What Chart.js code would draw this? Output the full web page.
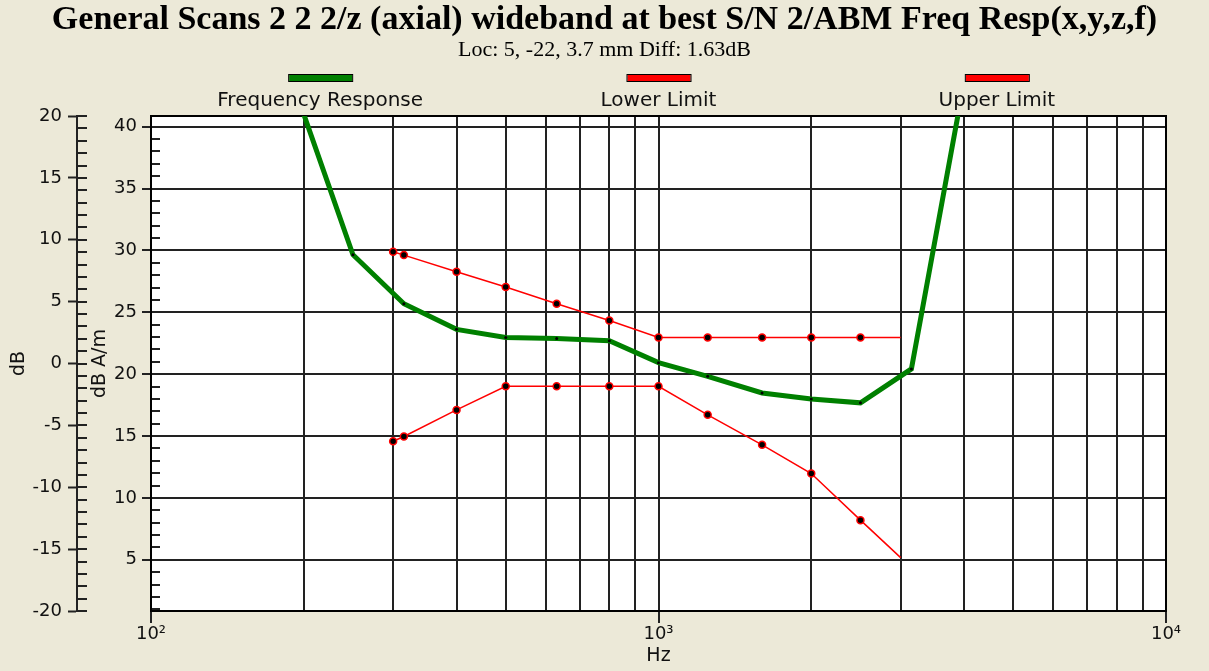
<!DOCTYPE html>
<html>
<head>
<meta charset="utf-8">
<script src="https://cdn.jsdelivr.net/npm/chart.js@4.4.1/dist/chart.umd.min.js"></script>
<style>
html,body{margin:0;padding:0;background:#ECE9D8;}
canvas{display:block;}
</style>
</head>
<body>
<canvas id="c" width="1209" height="671"></canvas>
<script>
// ---------- data ----------
const titleText = 'General Scans 2 2 2/z (axial) wideband at best S/N 2/ABM Freq Resp(x,y,z,f)';
const subtitleText = 'Loc: 5, -22, 3.7 mm Diff: 1.63dB';
const seriesNames = ['Frequency Response', 'Lower Limit', 'Upper Limit'];

const responseFreqs  = [200, 250, 315, 400, 500, 630, 800, 1000, 1250, 1600, 2000, 2500, 3150, 4000];
const responseValues = [41.0, 29.65, 25.69, 23.62, 22.97, 22.89, 22.70, 20.93, 19.82, 18.48, 18.00, 17.68, 20.42, 43.6];

const limitFreqs       = [300, 315, 400, 500, 630, 800, 1000, 1250, 1600, 2000, 2500, 3000];
const lowerLimitValues = [14.58, 14.96, 17.11, 19.02, 19.02, 19.02, 19.02, 16.71, 14.29, 11.97, 8.20, 5.17];
const upperLimitValues = [29.89, 29.62, 28.27, 27.04, 25.69, 24.34, 22.97, 22.97, 22.97, 22.97, 22.97, 22.97];

const xTickValues = [100, 200, 300, 400, 500, 600, 700, 800, 900,
                     1000, 2000, 3000, 4000, 5000, 6000, 7000, 8000, 9000, 10000];
const xTickLabels = {100: '10\u00B2', 1000: '10\u00B3', 10000: '10\u2074'};

const yInnerMajor = [5, 10, 15, 20, 25, 30, 35, 40];          // dB A/m
const yOuterMajor = [-20, -15, -10, -5, 0, 5, 10, 15, 20];    // dB
const yInnerRange = [0.86, 40.86];
const yOuterRange = [-20, 20];

// ---------- helpers ----------
function stepTicks(lo, hi) { const t = []; for (let v = lo; v <= hi; v++) t.push({value: v}); return t; }
const toXY = (xs, ys) => xs.map((x, i) => ({x: x, y: ys[i]}));

const GRID = '#222222';
const BG = '#ECE9D8';
const tickFont = {family: 'DejaVu Sans', size: 18};
const titleFont = {family: 'DejaVu Sans', size: 19};

const bgPlugin = {
  id: 'bg',
  beforeDraw(chart) {
    const {ctx, chartArea: a} = chart;
    ctx.save();
    ctx.fillStyle = BG;
    ctx.fillRect(0, 0, chart.width, chart.height);
    ctx.fillStyle = '#ffffff';
    ctx.fillRect(a.left, a.top, a.right - a.left, a.bottom - a.top);
    ctx.restore();
  }
};

const ticksPlugin = {
  id: 'minorTicks',
  beforeDatasetsDraw(chart) {
    const {ctx, chartArea: a} = chart;
    const y = chart.scales.y, y2 = chart.scales.y2;
    ctx.save();
    ctx.strokeStyle = GRID;
    ctx.lineWidth = 2;
    ctx.beginPath();
    y.ticks.forEach(t => {
      const py = Math.round(y.getPixelForValue(t.value));
      if (py < a.top || py > a.bottom) return;
      ctx.moveTo(a.left, py); ctx.lineTo(a.left + 9, py);
    });
    y2.ticks.forEach(t => {
      const py = Math.round(y2.getPixelForValue(t.value));
      ctx.moveTo(y2.right - 1, py); ctx.lineTo(y2.right + 10, py);
    });
    ctx.stroke();
    ctx.strokeStyle = '#000';
    ctx.strokeRect(a.left, a.top, a.right - a.left, a.bottom - a.top);
    ctx.restore();
  }
};

const legendPlugin = {
  id: 'topLegend',
  afterDraw(chart) {
    const {ctx, chartArea: a} = chart;
    const n = chart.data.datasets.length;
    ctx.save();
    chart.data.datasets.forEach((ds, i) => {
      const cx = a.left + (a.right - a.left) * (2 * i + 1) / (2 * n);
      ctx.fillStyle = ds.borderColor;
      ctx.fillRect(cx - 31, 75, 63, 6);
      ctx.strokeStyle = '#000';
      ctx.lineWidth = 1;
      ctx.strokeRect(cx - 31.5, 74.5, 64, 7);
      ctx.fillStyle = '#111';
      ctx.font = '20px "DejaVu Sans"';
      ctx.textAlign = 'center';
      ctx.textBaseline = 'middle';
      ctx.fillText(ds.label, cx, 101);
    });
    ctx.restore();
  }
};

const limitPointRadius = ctx => (ctx.dataIndex === ctx.dataset.data.length - 1 ? 0 : 3.5);

new Chart(document.getElementById('c'), {
  type: 'line',
  data: {
    datasets: [
      {
        label: seriesNames[0],
        data: toXY(responseFreqs, responseValues),
        borderColor: '#008000',
        backgroundColor: '#008000',
        borderWidth: 5,
        pointRadius: 1.5,
        pointBackgroundColor: '#000',
        pointBorderWidth: 0,
        tension: 0,
        clip: 0,
        yAxisID: 'y',
        order: 2
      },
      {
        label: seriesNames[1],
        data: toXY(limitFreqs, lowerLimitValues),
        borderColor: '#ff0000',
        backgroundColor: '#ff0000',
        borderWidth: 1.5,
        pointRadius: limitPointRadius,
        pointBackgroundColor: '#000',
        pointBorderColor: '#ff0000',
        pointBorderWidth: 1.5,
        tension: 0,
        clip: 0,
        yAxisID: 'y',
        order: 1
      },
      {
        label: seriesNames[2],
        data: toXY(limitFreqs, upperLimitValues),
        borderColor: '#ff0000',
        backgroundColor: '#ff0000',
        borderWidth: 1.5,
        pointRadius: limitPointRadius,
        pointBackgroundColor: '#000',
        pointBorderColor: '#ff0000',
        pointBorderWidth: 1.5,
        tension: 0,
        clip: 0,
        yAxisID: 'y',
        order: 1
      }
    ]
  },
  options: {
    responsive: false,
    animation: false,
    events: [],
    layout: {padding: 0},
    plugins: {
      legend: {display: false},
      tooltip: {enabled: false},
      title: {
        display: true, text: titleText, color: '#000',
        font: {family: 'Liberation Serif', size: 34, weight: 'bold', lineHeight: 1.0},
        padding: {top: 3, bottom: 0}
      },
      subtitle: {
        display: true, text: subtitleText, color: '#000',
        font: {family: 'Liberation Serif', size: 22, lineHeight: 1.0},
        padding: {top: 2, bottom: 55}
      }
    },
    scales: {
      x: {
        type: 'logarithmic',
        position: 'bottom',
        min: 100, max: 10000,
        afterBuildTicks: s => { s.ticks = xTickValues.map(v => ({value: v})); },
        afterFit: s => { s.height = 60; },
        ticks: {
          autoSkip: false, maxRotation: 0, minRotation: 0, padding: 1,
          font: tickFont, color: '#111',
          callback: v => (xTickLabels[v] !== undefined ? xTickLabels[v] : '')
        },
        grid: {
          color: GRID, lineWidth: 2, tickLength: 12, tickWidth: 2,
          tickColor: c => (xTickLabels[c.tick && c.tick.value] !== undefined ? GRID : 'rgba(0,0,0,0)')
        },
        border: {display: true, color: '#000', width: 2},
        title: {display: true, text: 'Hz', font: titleFont, color: '#111', padding: {top: 0, bottom: 3.2}}
      },
      y: {
        type: 'linear',
        position: 'left',
        weight: 0,
        min: yInnerRange[0], max: yInnerRange[1],
        afterBuildTicks: s => { s.ticks = stepTicks(1, 40); },
        afterFit: s => { s.width = 74; },
        ticks: {
          autoSkip: false, padding: 5, font: tickFont, color: '#111',
          callback: v => (yInnerMajor.includes(v) ? String(v) : '')
        },
        grid: {
          lineWidth: 2, tickLength: 9, tickWidth: 2,
          color: c => (yInnerMajor.includes(c.tick && c.tick.value) ? GRID : 'rgba(0,0,0,0)'),
          tickColor: c => (yInnerMajor.includes(c.tick && c.tick.value) ? GRID : 'rgba(0,0,0,0)')
        },
        border: {display: true, color: '#000', width: 2},
        title: {display: true, text: 'dB A/m', font: titleFont, color: '#111', padding: {top: 11.6, bottom: 0}}
      },
      y2: {
        type: 'linear',
        position: 'left',
        weight: 1,
        min: yOuterRange[0], max: yOuterRange[1],
        afterBuildTicks: s => { s.ticks = stepTicks(-20, 20); },
        afterFit: s => { s.width = 77; },
        ticks: {
          autoSkip: false, padding: 6, font: tickFont, color: '#111',
          callback: v => (yOuterMajor.includes(v) ? String(v) : '')
        },
        grid: {
          drawOnChartArea: false, tickLength: 9, tickWidth: 2,
          tickColor: c => (yOuterMajor.includes(c.tick && c.tick.value) ? GRID : 'rgba(0,0,0,0)')
        },
        border: {display: true, color: '#222', width: 2},
        title: {display: true, text: 'dB', font: titleFont, color: '#111', padding: {top: 7.6, bottom: 0}}
      },
      yR: {
        type: 'linear',
        position: 'right',
        display: true,
        ticks: {display: false},
        grid: {display: false},
        border: {display: false},
        afterFit: s => { s.width = 43; }
      }
    }
  },
  plugins: [bgPlugin, ticksPlugin, legendPlugin]
});
</script>
</body>
</html>
